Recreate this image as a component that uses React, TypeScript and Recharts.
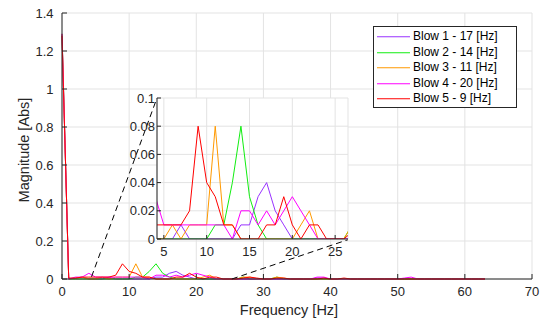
import React from 'react';
import { LineChart, Line, XAxis, YAxis, CartesianGrid, Legend, ReferenceLine } from 'recharts';

// Frequency bins [Hz]
const frequencies = [
  0, 1, 2, 3, 4, 5, 6, 7, 8, 9, 10, 11, 12, 13, 14, 15, 16, 17, 18, 19,
  20, 21, 22, 23, 24, 25, 26, 27, 28, 29, 30, 31, 32, 33, 34, 35, 36, 37, 38, 39,
  40, 41, 42, 43, 44, 45, 46, 47, 48, 49, 50, 51, 52, 53, 54, 55, 56, 57, 58, 59,
  60, 61, 62, 63,
];

const blow1 = [
  1.29, 0, 0.005, 0.01, 0, 0, 0, 0.01, 0, 0, 0, 0, 0, 0, 0.01, 0.01, 0.03, 0.04, 0.02, 0.01,
  0, 0, 0, 0, 0, 0, 0, 0, 0, 0, 0, 0, 0, 0, 0, 0, 0, 0, 0.005, 0.005,
  0, 0, 0, 0, 0, 0, 0, 0, 0, 0, 0, 0, 0, 0, 0, 0, 0, 0, 0, 0,
  0, 0, 0, 0,
];
const blow2 = [
  1.29, 0, 0, 0, 0, 0, 0, 0, 0, 0, 0, 0.01, 0.01, 0.04, 0.08, 0.03, 0.01, 0, 0, 0,
  0, 0, 0, 0, 0, 0, 0, 0.01, 0, 0, 0, 0, 0.01, 0, 0, 0, 0, 0, 0, 0,
  0, 0, 0, 0, 0, 0, 0, 0, 0, 0, 0, 0, 0, 0, 0, 0, 0, 0, 0, 0,
  0, 0, 0, 0,
];
const blow3 = [
  1.29, 0, 0.005, 0.01, 0, 0, 0.01, 0, 0.01, 0.01, 0.01, 0.08, 0.01, 0.01, 0, 0, 0, 0, 0, 0,
  0, 0.01, 0.02, 0, 0, 0, 0, 0.01, 0.01, 0, 0, 0, 0.01, 0.005, 0, 0, 0, 0, 0, 0,
  0, 0, 0, 0, 0, 0, 0, 0, 0, 0, 0, 0, 0, 0, 0, 0, 0, 0, 0, 0,
  0, 0, 0, 0,
];
const blow4 = [
  1.29, 0, 0.01, 0.01, 0.03, 0.01, 0.01, 0.01, 0.01, 0.01, 0.01, 0.01, 0.01, 0, 0.02, 0.02, 0.01, 0.02, 0.01, 0.02,
  0.03, 0.02, 0.01, 0, 0, 0, 0, 0, 0, 0, 0, 0, 0, 0, 0, 0, 0, 0, 0.01, 0.01,
  0, 0, 0, 0, 0, 0, 0, 0, 0, 0, 0, 0.005, 0.01, 0, 0, 0, 0, 0, 0, 0,
  0, 0, 0, 0,
];
const blow5 = [
  1.28, 0.005, 0.005, 0.01, 0.01, 0.01, 0.01, 0.01, 0.02, 0.08, 0.04, 0.03, 0.01, 0.01, 0, 0, 0, 0.01, 0.01, 0.03,
  0.01, 0, 0.01, 0.01, 0, 0, 0, 0.005, 0.01, 0.005, 0, 0, 0.005, 0.005, 0, 0, 0, 0, 0, 0.005,
  0, 0, 0.005, 0, 0, 0, 0, 0, 0, 0, 0, 0, 0, 0, 0, 0, 0, 0, 0, 0,
  0, 0, 0, 0,
];

const seriesNames = [
  'Blow 1 - 17 [Hz]',
  'Blow 2 - 14 [Hz]',
  'Blow 3 - 11 [Hz]',
  'Blow 4 - 20 [Hz]',
  'Blow 5 - 9 [Hz]',
];
const seriesColors = ['#9933ff', '#11ee11', '#ff9900', '#ff00ff', '#ff0000'];
const seriesKeys = ['b1', 'b2', 'b3', 'b4', 'b5'];

const mainXTicks = [0, 10, 20, 30, 40, 50, 60, 70];
const mainYTicks = [0, 0.2, 0.4, 0.6, 0.8, 1, 1.2, 1.4];
const insetXTicks = [5, 10, 15, 20, 25];
const insetYTicks = [0, 0.02, 0.04, 0.06, 0.08, 0.1];
const insetXRange = [4.2, 26.5];

// zoom connector endpoints (frequency, magnitude) in main-axis units
const zoomLinkA = [{ f: 4.4, m: 0.012 }, { f: 14.15, m: 0.953 }];
const zoomLinkB = [{ f: 25.3, m: 0 }, { f: 42.6, m: 0.207 }];

const rows = frequencies.map((f, i) => ({
  f,
  b1: blow1[i],
  b2: blow2[i],
  b3: blow3[i],
  b4: blow4[i],
  b5: blow5[i],
}));
const insetRows = rows.filter((r) => r.f >= 4 && r.f <= 27);

const AX = '#262626';
const GRID = '#e3e3e3';

const renderLegend = (props: any) => {
  const payload = props.payload || [];
  return (
    <div
      style={{
        boxSizing: 'border-box',
        width: 144,
        height: 82,
        border: '1px solid #262626',
        background: '#fff',
        paddingTop: 2,
      }}
    >
      {payload.map((entry: any) => (
        <div key={entry.value} style={{ display: 'flex', alignItems: 'center', height: 15.5 }}>
          <svg width={39} height={15.5} style={{ display: 'block' }}>
            <line x1={3} x2={36} y1={7.75} y2={7.75} stroke={entry.color} strokeWidth={1.2} />
          </svg>
          <span style={{ fontSize: 12, color: '#000', whiteSpace: 'nowrap', lineHeight: '15.5px' }}>
            {entry.value}
          </span>
        </div>
      ))}
    </div>
  );
};

const tickStyle = { fill: AX, fontSize: 13 };

export default function App() {
  return (
    <div
      style={{
        position: 'absolute',
        left: 0,
        top: 0,
        width: 542,
        height: 323,
        background: '#fff',
        fontFamily: '"Liberation Sans", Arial, Helvetica, sans-serif',
      }}
    >
      <LineChart width={542} height={323} data={rows} margin={{ top: 13, right: 10, left: 0, bottom: 0 }}>
        <CartesianGrid xAxisId="b" yAxisId="l" stroke={GRID} />
        <XAxis
          xAxisId="b"
          dataKey="f"
          type="number"
          domain={[0, 70]}
          ticks={mainXTicks}
          tickSize={-5}
          tickMargin={13}
          height={44}
          stroke={AX}
          tick={tickStyle}
          interval={0}
          label={{
            value: 'Frequency [Hz]',
            position: 'insideBottom',
            offset: 8,
            dx: -8,
            style: { fontSize: 14.5, fill: AX },
          }}
        />
        <XAxis
          xAxisId="t"
          orientation="top"
          dataKey="f"
          type="number"
          domain={[0, 70]}
          ticks={mainXTicks}
          tickSize={-5}
          height={0}
          stroke={AX}
          tickFormatter={() => ''}
          interval={0}
        />
        <YAxis
          yAxisId="l"
          type="number"
          domain={[0, 1.4]}
          ticks={mainYTicks}
          width={62}
          tickSize={-5}
          tickMargin={13.5}
          stroke={AX}
          tick={tickStyle}
          interval={0}
          label={{
            value: 'Magnitude [Abs]',
            angle: -90,
            position: 'insideLeft',
            offset: 24,
            dy: 4,
            style: { textAnchor: 'middle', fontSize: 14.5, fill: AX },
          }}
        />
        <YAxis
          yAxisId="r"
          orientation="right"
          type="number"
          domain={[0, 1.4]}
          ticks={mainYTicks}
          width={0}
          tickSize={-5}
          stroke={AX}
          tickFormatter={() => ''}
          interval={0}
        />
        {seriesKeys.map((k, i) => (
          <Line
            key={k}
            xAxisId="b"
            yAxisId="l"
            type="linear"
            dataKey={k}
            name={seriesNames[i]}
            stroke={seriesColors[i]}
            strokeWidth={1}
            dot={false}
            activeDot={false}
            isAnimationActive={false}
          />
        ))}
        <ReferenceLine
          xAxisId="b"
          yAxisId="l"
          segment={zoomLinkA.map((p) => ({ x: p.f, y: p.m }))}
          stroke="#000"
          strokeDasharray="6 4"
          strokeWidth={1}
        />
        <ReferenceLine
          xAxisId="b"
          yAxisId="l"
          segment={zoomLinkB.map((p) => ({ x: p.f, y: p.m }))}
          stroke="#000"
          strokeDasharray="6 4"
          strokeWidth={1}
        />
        <Legend
          layout="vertical"
          align="center"
          verticalAlign="middle"
          content={renderLegend}
          wrapperStyle={{ left: 373, top: 26, width: 144, height: 82 }}
        />
      </LineChart>

      <div style={{ position: 'absolute', left: 127, top: 88 }}>
        <LineChart width={225} height={171} data={insetRows} margin={{ top: 10, right: 4, left: 0, bottom: 0 }}>
          <CartesianGrid xAxisId="b" yAxisId="l" stroke={GRID} fill="#fff" fillOpacity={1} />
          <XAxis
            xAxisId="b"
            dataKey="f"
            type="number"
            domain={insetXRange}
            allowDataOverflow
            ticks={insetXTicks}
            tickSize={-4}
            tickMargin={11.4}
            height={20}
            stroke={AX}
            tick={tickStyle}
            interval={0}
          />
          <XAxis
            xAxisId="t"
            orientation="top"
            dataKey="f"
            type="number"
            domain={insetXRange}
            allowDataOverflow
            ticks={insetXTicks}
            tickSize={-4}
            height={0}
            stroke={AX}
            tickFormatter={() => ''}
            interval={0}
          />
          <YAxis
            yAxisId="l"
            type="number"
            domain={[0, 0.1]}
            allowDataOverflow
            ticks={insetYTicks}
            width={30}
            tickSize={-4}
            tickMargin={6}
            stroke={AX}
            tick={tickStyle}
            interval={0}
          />
          <YAxis
            yAxisId="r"
            orientation="right"
            type="number"
            domain={[0, 0.1]}
            allowDataOverflow
            ticks={insetYTicks}
            width={0}
            tickSize={-4}
            stroke={AX}
            tickFormatter={() => ''}
            interval={0}
          />
          {seriesKeys.map((k, i) => (
            <Line
              key={k}
              xAxisId="b"
              yAxisId="l"
              type="linear"
              dataKey={k}
              name={seriesNames[i]}
              stroke={seriesColors[i]}
              strokeWidth={1}
              dot={false}
              activeDot={false}
              isAnimationActive={false}
            />
          ))}
        </LineChart>
      </div>
    </div>
  );
}
